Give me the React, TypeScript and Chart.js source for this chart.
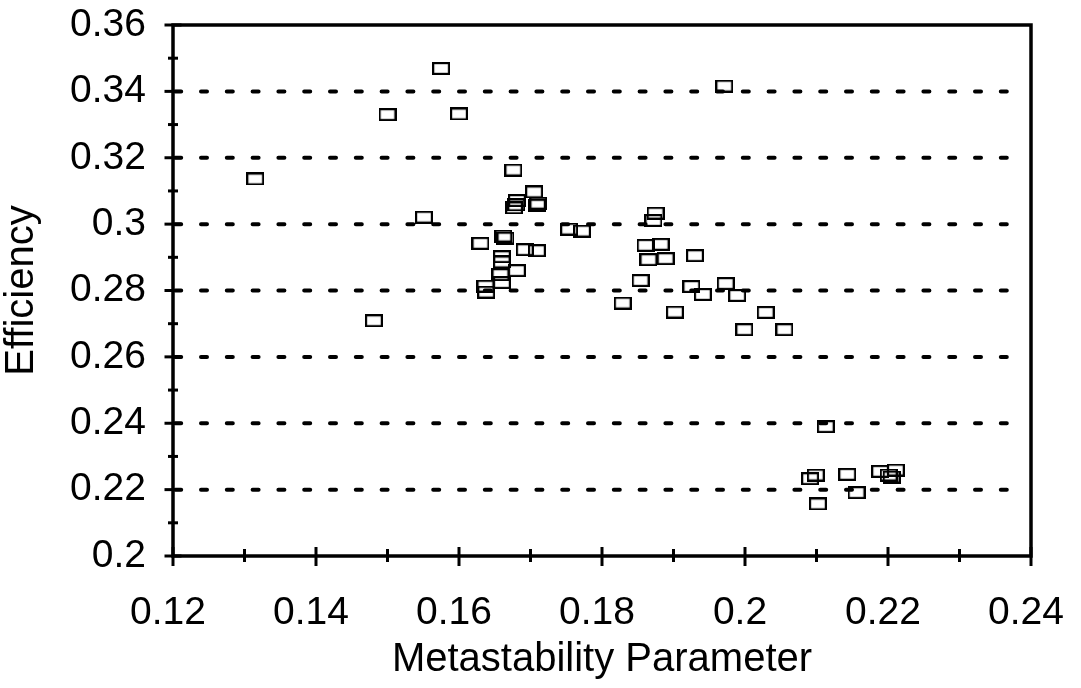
import React, { useEffect, useRef } from "react";
import { Chart, registerables } from "chart.js";

Chart.register(...registerables);

const metastability: number[] = [
  0.1315, 0.1575, 0.15, 0.16, 0.1971, 0.1481, 0.1551, 0.1676, 0.1705, 0.1681,
  0.1677, 0.168, 0.1709, 0.1711, 0.1754, 0.1772, 0.1662, 0.1665, 0.163, 0.1692,
  0.1709, 0.166, 0.166, 0.1681, 0.1658, 0.166, 0.1637, 0.1638, 0.1875, 0.1872,
  0.1861, 0.1882, 0.1865, 0.1889, 0.193, 0.1854, 0.1829, 0.1925, 0.1941, 0.1902,
  0.1973, 0.1989, 0.2029, 0.1999, 0.2055, 0.2113, 0.2091, 0.2099, 0.2143, 0.2102,
  0.2156, 0.2189, 0.2211, 0.2201, 0.2205,
];
const efficiency: number[] = [
  0.3136, 0.3469, 0.333, 0.3332, 0.3416, 0.2709, 0.3021, 0.3163, 0.3097, 0.3071,
  0.3049, 0.3058, 0.3057, 0.3063, 0.2985, 0.2979, 0.2964, 0.2958, 0.2942, 0.2923,
  0.292, 0.2902, 0.2886, 0.286, 0.2848, 0.2824, 0.2813, 0.2795, 0.3033, 0.3011,
  0.2936, 0.2939, 0.2893, 0.2896, 0.2905, 0.283, 0.2762, 0.2812, 0.2788, 0.2735,
  0.2821, 0.2785, 0.2734, 0.2682, 0.2682, 0.239, 0.2233, 0.2244, 0.2246, 0.2157,
  0.2191, 0.2255, 0.2259, 0.2244, 0.2238,
];
const xTickLabels: string[] = ["0.12", "0.14", "0.16", "0.18", "0.2", "0.22", "0.24"];
const yTickLabels: string[] = ["0.2", "0.22", "0.24", "0.26", "0.28", "0.3", "0.32", "0.34", "0.36"];
const gridValues: number[] = [0.22, 0.24, 0.26, 0.28, 0.3, 0.32, 0.34];

const FONT = "'Liberation Sans', Arial, Helvetica, sans-serif";

function makeMarker(): HTMLCanvasElement {
  const c = document.createElement("canvas");
  c.width = 18;
  c.height = 13;
  const g = c.getContext("2d")!;
  g.strokeStyle = "#000";
  g.lineWidth = 2.2;
  g.strokeRect(1.1, 1.1, 15.8, 10.8);
  return c;
}

const framePlugin = {
  id: "frame",
  beforeDatasetsDraw(chart: any) {
    const { ctx, chartArea } = chart;
    const ys = chart.scales.y;
    ctx.save();
    ctx.strokeStyle = "#000";
    ctx.lineWidth = 4;
    ctx.lineCap = "round";
    ctx.setLineDash([6, 19.8]);
    ctx.lineDashOffset = 23.6;
    for (const v of gridValues) {
      const py = ys.getPixelForValue(v);
      ctx.beginPath();
      ctx.moveTo(chartArea.left, py);
      ctx.lineTo(chartArea.right - 10, py);
      ctx.stroke();
    }
    ctx.restore();
  },
  afterDraw(chart: any) {
    const { ctx, chartArea } = chart;
    const xs = chart.scales.x;
    const ys = chart.scales.y;
    ctx.save();
    ctx.strokeStyle = "#000";
    ctx.lineWidth = 3.5;
    ctx.lineCap = "butt";
    ctx.strokeRect(chartArea.left, chartArea.top, chartArea.right - chartArea.left, chartArea.bottom - chartArea.top);
    ctx.lineWidth = 3;
    for (let i = 0; i <= 16; i++) {
      const v = 0.2 + i * 0.01;
      const py = ys.getPixelForValue(v);
      const L = i % 2 === 0 ? 8.5 : 5;
      ctx.beginPath();
      ctx.moveTo(chartArea.left - L, py);
      ctx.lineTo(chartArea.left + L, py);
      ctx.stroke();
    }
    for (let i = 0; i <= 12; i++) {
      const v = 0.12 + i * 0.01;
      const px = xs.getPixelForValue(v);
      const up = i % 2 === 0 ? 9 : 7;
      const down = i % 2 === 0 ? 10 : 6;
      ctx.beginPath();
      ctx.moveTo(px, chartArea.bottom - up);
      ctx.lineTo(px, chartArea.bottom + down);
      ctx.stroke();
    }
    ctx.restore();
  },
};

export default function App() {
  const ref = useRef<HTMLCanvasElement | null>(null);
  useEffect(() => {
    if (!ref.current) return;
    const marker = makeMarker();
    const points = metastability.map((x, i) => ({ x, y: efficiency[i] }));
    const chart = new Chart(ref.current, {
      type: "scatter",
      data: {
        datasets: [
          {
            data: points,
            pointStyle: marker as any,
            pointRadius: 9,
            borderColor: "#000",
            backgroundColor: "rgba(0,0,0,0)",
          },
        ],
      },
      options: {
        animation: false,
        responsive: false,
        devicePixelRatio: 1,
        layout: { padding: { top: 25, right: 50, left: 0, bottom: 0 } },
        plugins: { legend: { display: false }, tooltip: { enabled: false } },
        scales: {
          x: {
            type: "linear",
            min: 0.12,
            max: 0.24,
            afterFit: (s: any) => {
              s.height = 132;
              s.paddingLeft = 0;
              s.paddingRight = 0;
            },
            grid: { display: false, drawTicks: false },
            border: { display: false },
            ticks: {
              stepSize: 0.02,
              padding: 34,
              labelOffset: -5,
              color: "#000",
              font: { family: FONT, size: 39 },
              maxRotation: 0,
              autoSkip: false,
              callback: (_v: any, i: number) => xTickLabels[i],
            },
            title: {
              display: true,
              text: "Metastability Parameter",
              color: "#000",
              font: { family: FONT, size: 40 },
              padding: { top: 0, bottom: 4 },
            },
          },
          y: {
            type: "linear",
            min: 0.2,
            max: 0.36,
            afterFit: (s: any) => {
              s.width = 173;
              s.paddingTop = 0;
              s.paddingBottom = 0;
            },
            grid: { display: false, drawTicks: false },
            border: { display: false },
            ticks: {
              stepSize: 0.02,
              padding: 27,
              color: "#000",
              font: { family: FONT, size: 39 },
              autoSkip: false,
              callback: (_v: any, i: number) => yTickLabels[i],
            },
            title: {
              display: true,
              text: "Efficiency",
              color: "#000",
              font: { family: FONT, size: 40 },
              padding: { top: -2, bottom: 0 },
            },
          },
        },
      },
      plugins: [framePlugin],
    });
    return () => chart.destroy();
  }, []);
  return (
    <div style={{ position: "absolute", left: 0, top: 0, width: 1081, height: 688, background: "#fff" }}>
      <canvas ref={ref} width={1081} height={688} />
    </div>
  );
}
